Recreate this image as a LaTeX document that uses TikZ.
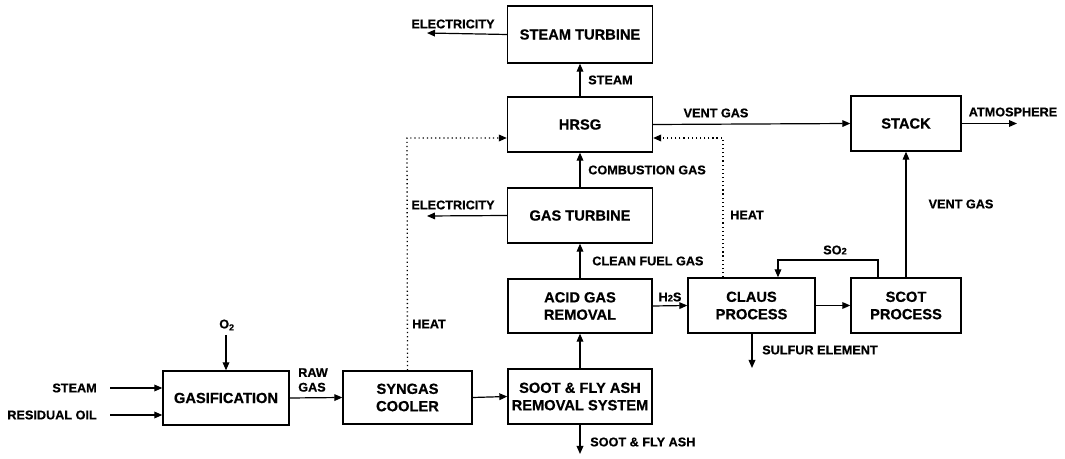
\documentclass[tikz,border=0pt]{standalone}
\usepackage{fontspec}
\setmainfont{Liberation Sans}[BoldFeatures={FakeBold=0.6}]
\usetikzlibrary{arrows.meta,calc}
\newcommand{\lowtwo}{\textsubscript{2}}
\begin{document}
\begin{tikzpicture}[x=0.75pt,y=-0.75pt,
  box/.style={draw,line width=1pt,inner sep=0pt,align=center,
    font=\fontsize{11}{13}\selectfont\bfseries},
  lbl/.style={inner sep=0pt,font=\fontsize{9.5}{11}\selectfont\bfseries,align=left},
  flow/.style={line width=0.9pt,-{Triangle[length=6pt,width=5pt]}},
  heat/.style={line width=1pt,dash pattern=on 0.9pt off 2.2pt,-{Triangle[length=6pt,width=5pt]}},
  plain/.style={line width=0.8pt}]
\useasboundingbox (0,0) rectangle (1065,459);
% boxes
\node[box,minimum width=126*0.75pt,minimum height=54*0.75pt] (gas) at (226,398) {GASIFICATION};
\node[box,minimum width=129*0.75pt,minimum height=53*0.75pt] (syn) at (407.5,397.5) {SYNGAS\\COOLER};
\node[box,minimum width=144*0.75pt,minimum height=55*0.75pt] (soot) at (580,396.5) {SOOT \& FLY ASH\\REMOVAL SYSTEM};
\node[box,minimum width=144*0.75pt,minimum height=54*0.75pt] (acid) at (580,306) {ACID GAS\\REMOVAL};
\node[box,minimum width=145*0.75pt,minimum height=55*0.75pt] (gt) at (580,215.5) {GAS TURBINE};
\node[box,minimum width=145*0.75pt,minimum height=55*0.75pt] (hrsg) at (580,124.5) {HRSG};
\node[box,minimum width=145*0.75pt,minimum height=57*0.75pt] (st) at (580,34.5) {STEAM TURBINE};
\node[box,minimum width=110*0.75pt,minimum height=55*0.75pt] (stack) at (906,123.5) {STACK};
\node[box,minimum width=127*0.75pt,minimum height=55*0.75pt] (claus) at (751.5,305.5) {CLAUS\\PROCESS};
\node[box,minimum width=110*0.75pt,minimum height=55*0.75pt] (scot) at (906,305.5) {SCOT\\PROCESS};
% labels
\node[lbl,anchor=east] (lsteam) at (97,388) {STEAM};
\node[lbl,anchor=east] (loil) at (97,415) {RESIDUAL OIL};
\node[lbl] (lo2) at (227,325) {O\lowtwo};
\node[lbl,anchor=west] (lraw) at (298,380) {RAW\\GAS};
\node[lbl,anchor=west] (lheat1) at (412,324) {HEAT};
\node[lbl,anchor=west] (lash) at (590,442) {SOOT \& FLY ASH};
\node[lbl,anchor=west] (lclean) at (592,261) {CLEAN FUEL GAS};
\node[lbl,anchor=west] (lcomb) at (588,170) {COMBUSTION GAS};
\node[lbl,anchor=west] (lsteam2) at (588,80) {STEAM};
\node[lbl] (lel1) at (453,24) {ELECTRICITY};
\node[lbl] (lel2) at (453,205) {ELECTRICITY};
\node[lbl] (lvent1) at (716,113) {VENT GAS};
\node[lbl] (latm) at (1013,112) {ATMOSPHERE};
\node[lbl] (lh2s) at (670,297) {H{\fontsize{7}{8}\selectfont 2}S};
\node[lbl,anchor=west] (lheat2) at (730,215) {HEAT};
\node[lbl] (lso2) at (835,250) {SO{\fontsize{7}{8}\selectfont 2}};
\node[lbl] (lvent2) at (961,204) {VENT GAS};
\node[lbl,anchor=west] (lsulf) at (762,350) {SULFUR ELEMENT};
% free ends
\coordinate (steamin) at (110,388);
\coordinate (oilin) at (110,415);
\coordinate (o2in) at (226,335);
\coordinate (ashout) at (580,454);
\coordinate (el1) at (427,33);
\coordinate (el2) at (427,216);
\coordinate (atm) at (1017,123.5);
\coordinate (sulf) at (752,368);
\coordinate (hl) at (407,138);
\coordinate (hr) at (723,138);
\coordinate (so2a) at (878,260);
\coordinate (so2b) at (778,260);
% connectors
\draw[flow] (steamin) -- (steamin -| gas.west);
\draw[flow] (oilin) -- (oilin -| gas.west);
\draw[flow] (o2in) -- (gas.north);
\draw[flow] (gas.east) -- (syn.west);
\draw[flow] (syn.east) -- (soot.west);
\draw[flow] (soot.north) -- (acid.south);
\draw[flow] (soot.south) -- (ashout);
\draw[flow] (acid.north) -- (gt.south);
\draw[flow] (gt.north) -- (hrsg.south);
\draw[flow] (hrsg.north) -- (st.south);
\draw[flow] (st.west) -- (el1);
\draw[flow] (gt.west) -- (el2);
\draw[flow] (hrsg.east) -- (stack.west);
\draw[flow] (stack.east) -- (atm);
\draw[heat] (syn.north) -- (hl) -- (hl -| hrsg.west);
\draw[heat] (hr |- claus.north) -- (hr) -- (hr -| hrsg.east);
\draw[flow] (acid.east) -- (claus.west);
\draw[flow] (claus.east) -- (scot.west);
\draw[flow] (so2a |- scot.north) -- (so2a) -- (so2b) -- (so2b |- claus.north);
\draw[flow] (scot.north) -- (stack.south);
\draw[flow] (sulf |- claus.south) -- (sulf);
\end{tikzpicture}
\end{document}
